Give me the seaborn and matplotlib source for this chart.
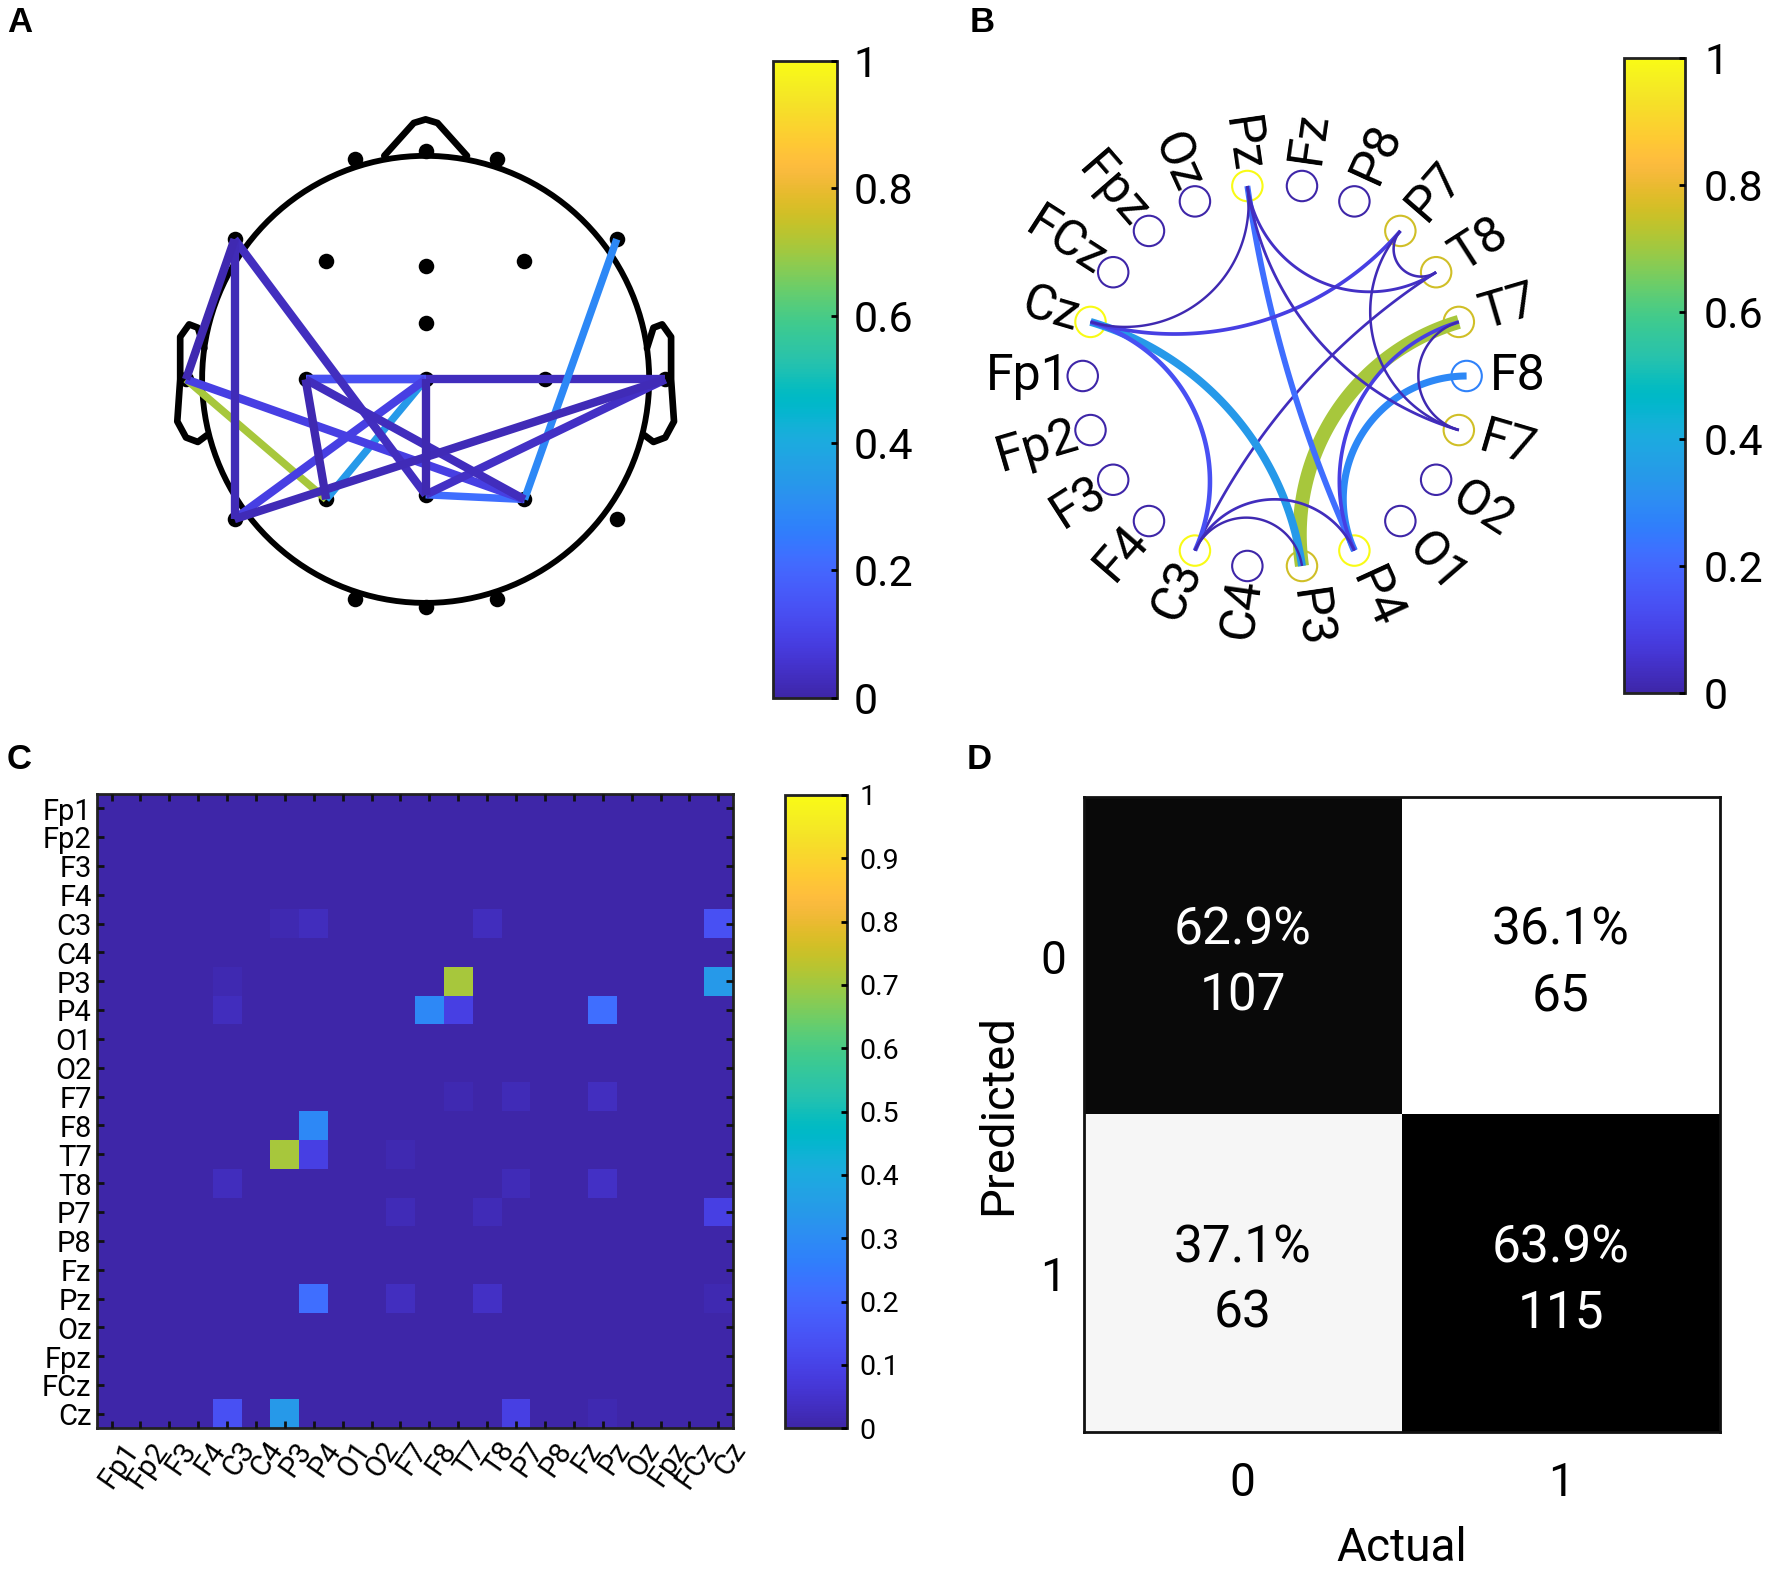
import numpy as np
import pandas as pd
import seaborn as sns
import matplotlib.pyplot as plt
from matplotlib.cm import ScalarMappable
from matplotlib.colors import LinearSegmentedColormap, Normalize
from matplotlib.transforms import ScaledTranslation

# channels
channels = ['Fp1', 'Fp2', 'F3', 'F4', 'C3', 'C4', 'P3', 'P4', 'O1', 'O2', 'F7',
            'F8', 'T7', 'T8', 'P7', 'P8', 'Fz', 'Pz', 'Oz', 'Fpz', 'FCz', 'Cz']

# connections (upper triangle only)
edge_a = ['C3', 'C3', 'C3', 'C3', 'P3', 'P3', 'P4', 'P4', 'P4', 'F7', 'F7', 'F7', 'T8', 'T8', 'P7', 'Pz']
edge_b = ['P3', 'P4', 'T8', 'Cz', 'T7', 'Cz', 'F8', 'T7', 'Pz', 'T7', 'P7', 'Pz', 'P7', 'Pz', 'Cz', 'Cz']
edge_v = [0.012, 0.03, 0.03, 0.14, 0.71, 0.34, 0.29, 0.09, 0.22, 0.015, 0.02, 0.035, 0.02, 0.04, 0.09, 0.012]

# scalp positions, head radius = 1
elec_x = [-0.318, 0.318, -0.445, 0.442, -0.537, 0.534, -0.445, 0.442, -0.318, 0.318, -0.855,
          0.855, -1.072, 1.072, -0.855, 0.855, 0, 0, 0, 0, 0, 0]
elec_y = [0.985, 0.985, 0.528, 0.528, 0, 0, -0.537, -0.537, -0.981, -0.981, 0.627,
          0.627, 0, 0, -0.625, -0.625, 0.508, -0.516, -1.018, 1.02, 0.254, 0]

nose_x = [-0.185, -0.053, 0, 0.053, 0.185]
nose_y = [1.0, 1.147, 1.163, 1.147, 1.0]
ear_x = [-0.99, -1.019, -1.058, -1.098, -1.098, -1.111, -1.072, -1.019, -0.979]
ear_y = [0.139, 0.231, 0.246, 0.19, 0, -0.188, -0.26, -0.28, -0.25]

# node outline colour in panel B
node_names = ['Pz', 'C3', 'P4', 'Cz', 'P7', 'T8', 'T7', 'F7', 'P3', 'F8']
node_vals = [1.0, 1.0, 1.0, 1.0, 0.76, 0.76, 0.76, 0.76, 0.76, 0.27]

# confusion matrix
conf_pct = [[62.9, 36.1], [37.1, 63.9]]
conf_n = [[107, 65], [63, 115]]
conf_ticks = ['0', '1']

parula = LinearSegmentedColormap.from_list('parula', [
    (0.2422, 0.1504, 0.6603), (0.2504, 0.1650, 0.7076), (0.2578, 0.1818, 0.7511), (0.2647, 0.1978, 0.7952),
    (0.2706, 0.2147, 0.8364), (0.2751, 0.2342, 0.8710), (0.2783, 0.2559, 0.8991), (0.2803, 0.2782, 0.9221),
    (0.2813, 0.3006, 0.9414), (0.2810, 0.3228, 0.9579), (0.2795, 0.3447, 0.9717), (0.2760, 0.3667, 0.9829),
    (0.2699, 0.3892, 0.9906), (0.2602, 0.4123, 0.9952), (0.2440, 0.4358, 0.9988), (0.2206, 0.4603, 0.9973),
    (0.1963, 0.4847, 0.9892), (0.1834, 0.5074, 0.9798), (0.1786, 0.5289, 0.9682), (0.1764, 0.5499, 0.9520),
    (0.1687, 0.5703, 0.9359), (0.1540, 0.5902, 0.9218), (0.1460, 0.6091, 0.9079), (0.1380, 0.6276, 0.8973),
    (0.1248, 0.6459, 0.8883), (0.1113, 0.6635, 0.8763), (0.0952, 0.6798, 0.8598), (0.0689, 0.6948, 0.8394),
    (0.0297, 0.7082, 0.8163), (0.0036, 0.7203, 0.7917), (0.0067, 0.7312, 0.7660), (0.0433, 0.7411, 0.7394),
    (0.0964, 0.7500, 0.7120), (0.1408, 0.7584, 0.6842), (0.1717, 0.7670, 0.6554), (0.1938, 0.7758, 0.6251),
    (0.2161, 0.7843, 0.5923), (0.2470, 0.7918, 0.5567), (0.2906, 0.7973, 0.5188), (0.3406, 0.8008, 0.4789),
    (0.3909, 0.8029, 0.4354), (0.4456, 0.8024, 0.3909), (0.5044, 0.7993, 0.3480), (0.5616, 0.7942, 0.3045),
    (0.6174, 0.7876, 0.2612), (0.6720, 0.7793, 0.2227), (0.7242, 0.7698, 0.1910), (0.7738, 0.7598, 0.1646),
    (0.8203, 0.7498, 0.1535), (0.8634, 0.7406, 0.1596), (0.9035, 0.7330, 0.1774), (0.9393, 0.7288, 0.2100),
    (0.9728, 0.7298, 0.2394), (0.9956, 0.7434, 0.2371), (0.9970, 0.7659, 0.2199), (0.9952, 0.7893, 0.2028),
    (0.9892, 0.8136, 0.1885), (0.9786, 0.8386, 0.1766), (0.9676, 0.8639, 0.1643), (0.9610, 0.8890, 0.1537),
    (0.9597, 0.9135, 0.1423), (0.9628, 0.9373, 0.1265), (0.9691, 0.9606, 0.1064), (0.9769, 0.9839, 0.0805)], N=256)

sns.set_theme(style='white')
plt.rcParams['font.family'] = ['Roboto', 'DejaVu Sans']
plt.rcParams['text.color'] = 'black'
plt.rcParams['axes.labelcolor'] = 'black'
plt.rcParams['xtick.color'] = 'black'
plt.rcParams['ytick.color'] = 'black'
plt.rcParams['axes.axisbelow'] = False

W, H = 1569.5, 1390.5
fig = plt.figure(figsize=(17.72, 15.70), dpi=100)


def box(x0, y0, x1, y1):
    return fig.add_axes([x0 / W, 1 - y1 / H, (x1 - x0) / W, (y1 - y0) / H])


def colorbar(x0, y0, x1, y1, ticks, size, pad=9):
    cax = box(x0, y0, x1, y1)
    cb = fig.colorbar(ScalarMappable(Normalize(0, 1), parula), cax=cax)
    cb.set_ticks(ticks, labels=[f'{t:g}' for t in ticks])
    cax.tick_params(direction='in', length=4, width=2, labelsize=size, pad=pad, right=True)
    cb.outline.set_linewidth(2)
    cb.outline.set_edgecolor('#222222')
    return cb


pos = {c: i for i, c in enumerate(channels)}
edges = sorted(zip(edge_a, edge_b, edge_v), key=lambda e: -e[2])
# the C3-T8 line sits under everything on the scalp map
edges.sort(key=lambda e: e[:2] != ('C3', 'T8'))

# A: scalp map
ax = box(377 - 270, 336 - 270, 377 + 270, 336 + 270)
ax.set_xlim(-270 / 198, 270 / 198)
ax.set_ylim(-270 / 198, 270 / 198)
ax.axis('off')
t = np.linspace(0, 2 * np.pi, 300)
ax.plot(np.cos(t), np.sin(t), color='black', lw=4.2, zorder=1)
ax.plot(nose_x, nose_y, color='black', lw=4.8, zorder=1)
ax.plot(ear_x, ear_y, color='black', lw=4.8, zorder=1)
ax.plot(-np.array(ear_x), ear_y, color='black', lw=4.8, zorder=1)
sns.scatterplot(x=elec_x, y=elec_y, color='black', s=125, linewidth=0, ax=ax, zorder=2)
for a, b, v in edges:
    ax.plot([elec_x[pos[a]], elec_x[pos[b]]], [elec_y[pos[a]], elec_y[pos[b]]],
            color=parula(v), lw=6.0 if v < 0.2 else 5.4, solid_capstyle='butt', zorder=3)
colorbar(685, 54, 741, 618, [0, 0.2, 0.4, 0.6, 0.8, 1], 31, pad=12)

# B: circular graph
R = 170
ax = box(1129 - 260, 333 - 260, 1129 + 260, 333 + 260)
ax.set_xlim(-260 / R, 260 / R)
ax.set_ylim(-260 / R, 260 / R)
ax.axis('off')
ang = np.deg2rad(180 + np.arange(len(channels)) * 360 / len(channels))
for a, b, v in edges:
    t1, t2 = ang[pos[a]], ang[pos[b]]
    d = (t2 - t1 + np.pi) % (2 * np.pi) - np.pi
    mid = t1 + d / 2
    cx, cy = np.cos(mid) / np.cos(d / 2), np.sin(mid) / np.cos(d / 2)
    r = abs(np.tan(d / 2))
    s1 = np.arctan2(np.sin(t1) - cy, np.cos(t1) - cx)
    s2 = np.arctan2(np.sin(t2) - cy, np.cos(t2) - cx)
    ds = (s2 - s1 + np.pi) % (2 * np.pi) - np.pi
    ss = s1 + np.linspace(0, 1, 100) * ds
    ax.plot(cx + r * np.cos(ss), cy + r * np.sin(ss), color=parula(v),
            lw=1.6 + v * 12, solid_capstyle='butt', zorder=3)
node_col = [parula(node_vals[node_names.index(c)] if c in node_names else 0.0) for c in channels]
ax.scatter(np.cos(ang), np.sin(ang), s=480, facecolors='none', edgecolors=node_col, linewidths=1.5, zorder=2)
for c, th in zip(channels, ang):
    deg = np.rad2deg(th) % 360
    left = np.cos(th) < 0
    rad = 1.07 if left else 1.12
    ax.text(rad * np.cos(th), rad * np.sin(th), c, fontsize=36,
            rotation=deg - 180 if left else deg, rotation_mode='anchor',
            ha='right' if left else 'left', va='center')
colorbar(1438, 51, 1492, 614, [0, 0.2, 0.4, 0.6, 0.8, 1], 31, pad=14)

# C: connectivity matrix
mat = pd.DataFrame(0.0, index=channels, columns=channels)
for a, b, v in zip(edge_a, edge_b, edge_v):
    mat.loc[a, b] = v
    mat.loc[b, a] = v
ax = box(86, 703, 649, 1265)
sns.heatmap(mat, vmin=0, vmax=1, cmap=parula, cbar=False, ax=ax)
ax.set_xticks(np.arange(22) + 0.5, channels, rotation=55, ha='right', rotation_mode='anchor')
ax.set_yticks(np.arange(22) + 0.5, channels, rotation=0)
ax.tick_params(direction='in', length=5, width=2, top=True, right=True, bottom=True, left=True,
               labelsize=21, color='#111111', pad=4)
ax.tick_params(axis='x', pad=6)
for lab in ax.get_xticklabels():
    lab.set_transform(lab.get_transform() + ScaledTranslation(0.10, 0, fig.dpi_scale_trans))
for lab in ax.get_yticklabels():
    lab.set_transform(lab.get_transform() + ScaledTranslation(0, -0.034, fig.dpi_scale_trans))
for sp in ax.spines.values():
    sp.set_visible(True)
    sp.set_linewidth(2)
    sp.set_color('#222222')
colorbar(695, 704, 750, 1265, list(np.arange(0, 1.01, 0.1).round(1)), 20.5)

# D: confusion matrix
ax = box(960, 706, 1523, 1268)
annot = [[f'{p}%\n{n}' for p, n in zip(rp, rn)] for rp, rn in zip(conf_pct, conf_n)]
sns.heatmap(conf_pct, cmap='gray_r', cbar=False, annot=annot, fmt='',
            annot_kws={'fontsize': 37, 'linespacing': 1.4},
            xticklabels=conf_ticks, yticklabels=conf_ticks, ax=ax)
for txt, p in zip(ax.texts, np.ravel(conf_pct)):
    txt.set_color('white' if p > 50 else 'black')
    txt.set_y(txt.get_position()[1] + 0.025)
ax.tick_params(length=0, labelsize=33, pad=21)
ax.tick_params(axis='y', pad=13)
ax.set_yticklabels(conf_ticks, rotation=0)
for lab in ax.get_yticklabels():
    lab.set_transform(lab.get_transform() + ScaledTranslation(0, -0.05, fig.dpi_scale_trans))
ax.set_xlabel('Actual', fontsize=33, labelpad=15)
ax.set_ylabel('Predicted', fontsize=34, labelpad=14)
for sp in ax.spines.values():
    sp.set_visible(True)
    sp.set_linewidth(2)
    sp.set_color('#111111')

for letter, x, y in [('A', 6, 20), ('B', 859, 20), ('C', 6, 673), ('D', 856, 673)]:
    fig.text(x / W, 1 - y / H, letter, fontsize=25, fontweight='bold', family='Liberation Sans', va='center')

fig.savefig('out.png', dpi=100)
